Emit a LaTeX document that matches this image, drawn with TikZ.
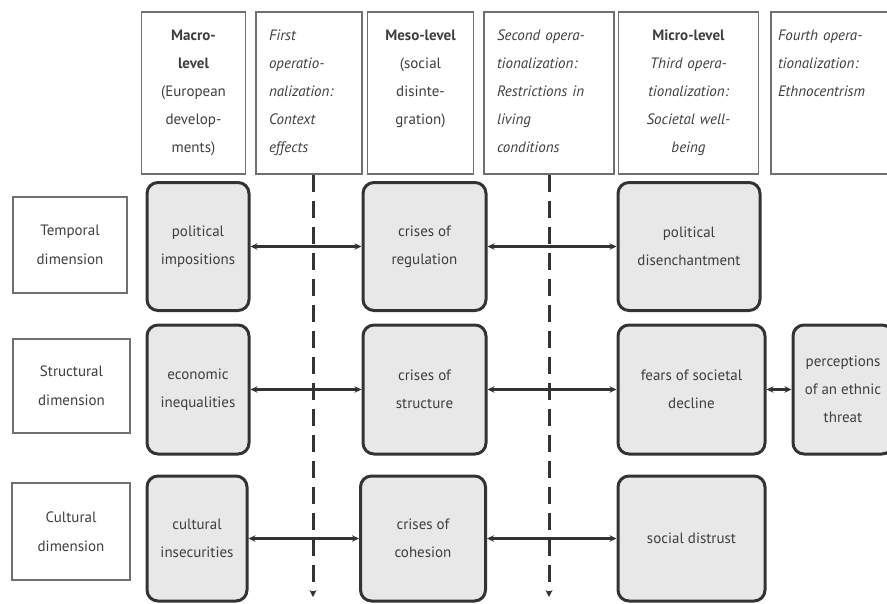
\documentclass[tikz,border=0pt]{standalone}
\usepackage{fontspec}
\setmainfont{PT Sans}
\usetikzlibrary{arrows.meta}
\definecolor{BoxFill}{HTML}{E8E8E8}
\definecolor{BoxLine}{HTML}{333333}
\definecolor{HeadLine}{HTML}{707070}
\definecolor{TextGray}{HTML}{3E3E3E}

\begin{document}
\begin{tikzpicture}[x=1pt, y=-1pt,
    every node/.style={font=\fontsize{15}{28}\selectfont, text=TextGray},
    headbox/.style={draw=HeadLine, line width=1.5pt, anchor=north, inner ysep=4pt,
        text height=25pt, text depth=129pt},
    dimbox/.style={draw=HeadLine, line width=1.5pt, align=center,
        font=\fontsize{15}{29}\selectfont},
    factor/.style={draw=BoxLine, fill=BoxFill, line width=3pt, rounded corners=11pt,
        align=center},
    link/.style={BoxLine, line width=2.8pt,
        {Stealth[length=7pt,width=6.5pt]}-{Stealth[length=7pt,width=6.5pt]}},
    divider/.style={BoxLine, line width=3pt, dash pattern=on 17pt off 9pt,
        -{Stealth[length=7pt,width=7pt]}}
  ]
  \useasboundingbox (0,0) rectangle (887,603);

  % Levels and operationalizations
  \node[headbox, text width=97pt, align=center] (hmacro) at (193.5,11)
    {\textbf{Macro-}\\\textbf{level}\\(European\\develop-\\ments)};
  \node[headbox, text width=80pt, inner xsep=13pt, align=left] (hfirst) at (309,11)
    {\itshape First\\operatio-\\nalization:\\Context\\effects};
  \node[headbox, text width=99pt, align=center] (hmeso) at (420.5,11)
    {\textbf{Meso-level}\\(social\\disinte-\\gration)};
  \node[headbox, text width=104pt, inner xsep=13pt, align=left] (hsecond) at (549,11)
    {\itshape Second opera-\\tionalization:\\Restrictions in\\living\\conditions};
  \node[headbox, text width=133pt, align=center] (hmicro) at (688.5,11)
    {\textbf{Micro-level}\\\itshape Third opera-\\tionalization:\\Societal well-\\being};
  \node[headbox, text width=118pt, inner xsep=7pt, align=left] (hfourth) at (837,11)
    {\itshape Fourth opera-\\tionalization:\\Ethnocentrism};

  % Dimensions
  \node[dimbox, minimum width=114pt, minimum height=96pt] (temporal) at (70,245)
    {Temporal\\dimension};
  \node[dimbox, minimum width=117pt, minimum height=94pt] (structural) at (71.5,386)
    {Structural\\dimension};
  \node[dimbox, minimum width=118pt, minimum height=97pt] (cultural) at (71,531.5)
    {Cultural\\dimension};

  % Temporal row
  \node[factor, minimum width=102pt, minimum height=128pt] (polimp) at (198,246.5)
    {political\\impositions};
  \node[factor, minimum width=123pt, minimum height=128pt] (crisreg) at (424.5,246.5)
    {crises of\\regulation};
  \node[factor, minimum width=142pt, minimum height=128pt] (poldis) at (689,246.5)
    {political\\disenchantment};

  % Structural row
  \node[factor, minimum width=102pt, minimum height=129pt] (ecoineq) at (198,389.5)
    {economic\\inequalities};
  \node[factor, minimum width=123pt, minimum height=129pt] (crisstr) at (424.5,389.5)
    {crises of\\structure};
  \node[factor, minimum width=147pt, minimum height=129pt] (fears) at (691.5,389.5)
    {fears of societal\\decline};
  \node[factor, minimum width=100pt, minimum height=129pt] (ethnic) at (843,389.5)
    {perceptions\\of an ethnic\\threat};

  % Cultural row
  \node[factor, minimum width=100pt, minimum height=125pt] (culins) at (197,538.5)
    {cultural\\insecurities};
  \node[factor, minimum width=125pt, minimum height=125pt] (criscoh) at (423,538.5)
    {crises of\\cohesion};
  \node[factor, minimum width=147pt, minimum height=125pt] (distrust) at (691.5,538.5)
    {social distrust};

  % Operationalization cuts
  \coordinate (firstend) at (313,597);
  \coordinate (secondend) at (549,597);
  \draw[divider] (hfirst.south -| firstend) -- (firstend);
  \draw[divider] (hsecond.south) -- (secondend);

  % Links
  \draw[link] (polimp) -- (crisreg);
  \draw[link] (crisreg) -- (poldis);
  \draw[link] (ecoineq) -- (crisstr);
  \draw[link] (crisstr) -- (fears);
  \draw[link] (fears) -- (ethnic);
  \draw[link] (culins) -- (criscoh);
  \draw[link] (criscoh) -- (distrust);
\end{tikzpicture}
\end{document}
